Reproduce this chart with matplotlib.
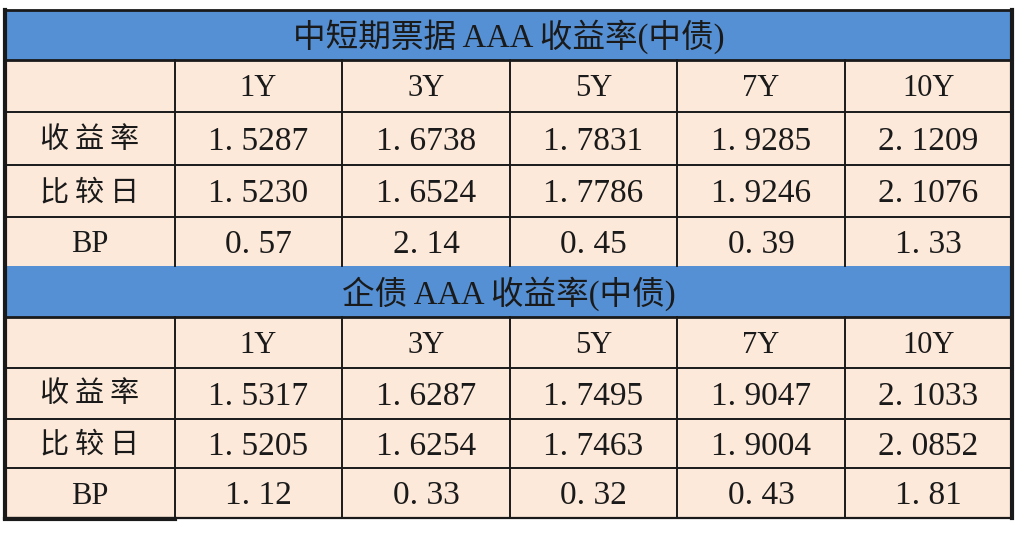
import matplotlib.pyplot as plt
from matplotlib.patches import Rectangle

plt.rcParams['font.family'] = ['Noto Sans CJK SC', 'DejaVu Sans']

# Data
tenors = ['1Y', '3Y', '5Y', '7Y', '10Y']
row_names = ['收益率', '比较日', 'BP']

title_1 = '中短期票据 AAA 收益率(中债)'
yield_1 = [1.5287, 1.6738, 1.7831, 1.9285, 2.1209]
compare_1 = [1.5230, 1.6524, 1.7786, 1.9246, 2.1076]
bp_1 = [0.57, 2.14, 0.45, 0.39, 1.33]

title_2 = '企债 AAA 收益率(中债)'
yield_2 = [1.5317, 1.6287, 1.7495, 1.9047, 2.1033]
compare_2 = [1.5205, 1.6254, 1.7463, 1.9004, 2.0852]
bp_2 = [1.12, 0.33, 0.32, 0.43, 1.81]

blue = '#5590D4'
peach = '#FDE9DA'
ink = '#1a1a1a'

fig = plt.figure(figsize=(10.2, 5.34), dpi=100)
ax = fig.add_axes([0, 0, 1, 1])
ax.set_xlim(0, 1020)
ax.set_ylim(534, 0)
ax.axis('off')

col_x = [5, 175, 342, 510, 677, 845, 1012]
row_y = [10, 60, 112, 165, 217, 266, 317, 368, 419, 468, 518]

num_font = ['Liberation Serif', 'Noto Sans CJK SC']
cjk_font = ['Noto Sans CJK SC', 'DejaVu Sans']


def fmt(v, nd):
    # mimic the wide decimal point of the original
    return f'{v:.{nd}f}'.replace('.', '. ')


def draw_block(r0, title, yields, compares, bps):
    top = row_y[r0]
    # title band
    ax.add_patch(Rectangle((col_x[0], top), col_x[-1] - col_x[0], row_y[r0 + 1] - top,
                           facecolor=blue, edgecolor='none'))
    ax.text((col_x[0] + col_x[-1]) / 2, (top + row_y[r0 + 1]) / 2 + 2, title,
            ha='center', va='center', fontsize=23.5, color=ink, family=num_font,
            fontweight='light')
    # body cells
    body_top = row_y[r0 + 1]
    body_bot = row_y[r0 + 5]
    ax.add_patch(Rectangle((col_x[0], body_top), col_x[-1] - col_x[0], body_bot - body_top,
                           facecolor=peach, edgecolor='none'))
    # horizontal lines
    for r in range(r0 + 1, r0 + 5):
        lw = 2.0 if r == r0 + 1 else 1.4
        ax.plot([col_x[0], col_x[-1]], [row_y[r], row_y[r]], color=ink, lw=lw)
    # vertical lines
    for c in col_x[1:-1]:
        ax.plot([c, c], [body_top, body_bot], color=ink, lw=1.4)
    # header row
    yc = (row_y[r0 + 1] + row_y[r0 + 2]) / 2
    for j, t in enumerate(tenors):
        ax.text((col_x[j + 1] + col_x[j + 2]) / 2, yc + 3, t, ha='center', va='center',
                fontsize=22, color=ink, family=num_font)
    rows = [(yields, 4), (compares, 4), (bps, 2)]
    for i, (vals, nd) in enumerate(rows):
        yc = (row_y[r0 + 2 + i] + row_y[r0 + 3 + i]) / 2
        name = row_names[i]
        if name == 'BP':
            ax.text((col_x[0] + col_x[1]) / 2, yc + 3, name, ha='center', va='center',
                    fontsize=22, color=ink, family=num_font)
        else:
            ax.text((col_x[0] + col_x[1]) / 2, yc + 1, '\u2009'.join(name), ha='center',
                    va='center', fontsize=21, color=ink, family=cjk_font, fontweight='light')
        for j, v in enumerate(vals):
            ax.text((col_x[j + 1] + col_x[j + 2]) / 2, yc + 3, fmt(v, nd), ha='center',
                    va='center', fontsize=24, color=ink, family=num_font)


draw_block(0, title_1, yield_1, compare_1, bp_1)
draw_block(5, title_2, yield_2, compare_2, bp_2)

# outer frame
ax.plot([col_x[0], col_x[-1]], [row_y[0], row_y[0]], color=ink, lw=2.0)
ax.plot([col_x[0], col_x[0]], [row_y[0], row_y[-1]], color=ink, lw=3.0)
ax.plot([col_x[-1], col_x[-1]], [row_y[0], row_y[-1]], color=ink, lw=3.0)
ax.plot([col_x[0], col_x[-1]], [row_y[-1], row_y[-1]], color=ink, lw=1.6)
ax.plot([col_x[0], col_x[1]], [row_y[-1] + 1, row_y[-1] + 1], color=ink, lw=3.0)

fig.savefig('out.png', dpi=100, facecolor='white')
